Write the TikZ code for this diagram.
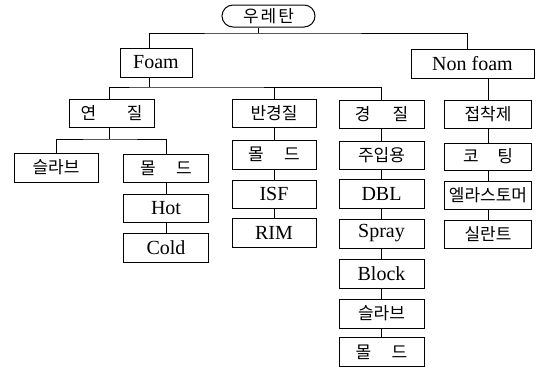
\documentclass[tikz,border=0pt]{standalone}
\usepackage{fontspec}
\setmainfont{Liberation Serif}
\newfontfamily\kr{Noto Sans CJK KR}
\begin{document}
\begin{tikzpicture}[x=1pt,y=-1pt,
  line width=0.8pt,
  box/.style={draw,line width=1pt,inner sep=0pt,font=\fontsize{20}{20}\selectfont},
  kbox/.style={box,font=\kr\fontsize{17}{17}\selectfont},
  colA/.style={minimum width=85pt,minimum height=28pt},
  colB/.style={minimum width=84pt,minimum height=28pt},
  colC/.style={minimum width=85pt,minimum height=28pt},
  colD/.style={minimum width=87pt,minimum height=28pt}]
\useasboundingbox (0,0) rectangle (541,368);
% top level
\node[kbox,rounded corners=11pt,minimum width=93pt,minimum height=22pt] (root) at (268.5,16) {우\hspace{2pt}레\hspace{2pt}탄};
\node[box,minimum width=72pt,minimum height=29pt] (foam) at (156,62.5) {Foam};
\node[box,minimum width=123pt,minimum height=29pt] (nonfoam) at (472.5,63.5) {Non foam};
% second row
\node[kbox,colA] (yeonjil) at (111.5,113.5) {연\hspace{1.8em}질};
\node[kbox,colB] (bangyeong) at (274,113.5) {반경질};
\node[kbox,colC] (gyeongjil) at (381.5,114) {경\hspace{1.3em}질};
\node[kbox,colD] (jeopchak) at (488,114.5) {접착제};
% soft
\node[kbox,colB,minimum height=29pt] (slab1) at (56,167.5) {슬라브};
\node[kbox,colA] (mold1) at (166,168) {몰\hspace{1.2em}드};
\node[box,colA] (hot) at (166,208) {Hot};
\node[box,colA,minimum height=29pt] (cold) at (166,247.5) {Cold};
% semi-rigid
\node[kbox,colB,minimum height=29pt] (mold2) at (274,154.5) {몰\hspace{1.2em}드};
\node[box,colB] (isf) at (274,194) {ISF};
\node[box,colB,minimum height=29pt] (rim) at (274,232.5) {RIM};
% rigid
\node[kbox,colC] (inject) at (381.5,155) {주입용};
\node[box,colC,minimum height=29pt] (dbl) at (381.5,193.5) {DBL};
\node[box,colC,minimum height=29pt] (spray) at (381.5,233.5) {Spray};
\node[box,colC,minimum height=29pt] (block) at (381.5,273.5) {Block};
\node[kbox,colC,minimum height=29pt] (slab2) at (381.5,313.5) {슬라브};
\node[kbox,colC,minimum height=29pt] (mold3) at (381.5,352) {몰\hspace{1.2em}드};
% non foam
\node[kbox,colD,minimum height=27pt] (coating) at (488,156.5) {코\hspace{1.1em}팅};
\node[kbox,colD] (elast) at (488,195) {엘라스토머};
\node[kbox,colD] (sealant) at (488,234) {실란트};
% junctions
\coordinate (j0) at (258,33);
\coordinate (fx) at (149,0);
\coordinate (nx) at (467,0);
\coordinate (j1) at (149,87);
\coordinate (yx) at (109,0);
\coordinate (j2) at (109,139);
% connectors
\draw (root.south -| j0) -- (j0);
\draw (foam.north -| fx) |- (j0) -| (nonfoam.north -| nx);
\draw (foam.south -| fx) -- (j1);
\draw (yeonjil.north -| yx) |- (j1) -| (gyeongjil.north);
\draw (bangyeong.north) -- (bangyeong.north |- j1);
\draw (nonfoam.south -| jeopchak.north) -- (jeopchak.north);
\draw (yeonjil.south -| yx) -- (j2);
\draw (slab1.north) |- (j2) -| (mold1.north);
\draw (mold1) -- (hot) -- (cold);
\draw (bangyeong) -- (mold2) -- (isf) -- (rim);
\draw (gyeongjil) -- (inject) -- (dbl) -- (spray) -- (block) -- (slab2) -- (mold3);
\draw (jeopchak) -- (coating) -- (elast) -- (sealant);
\end{tikzpicture}
\end{document}
